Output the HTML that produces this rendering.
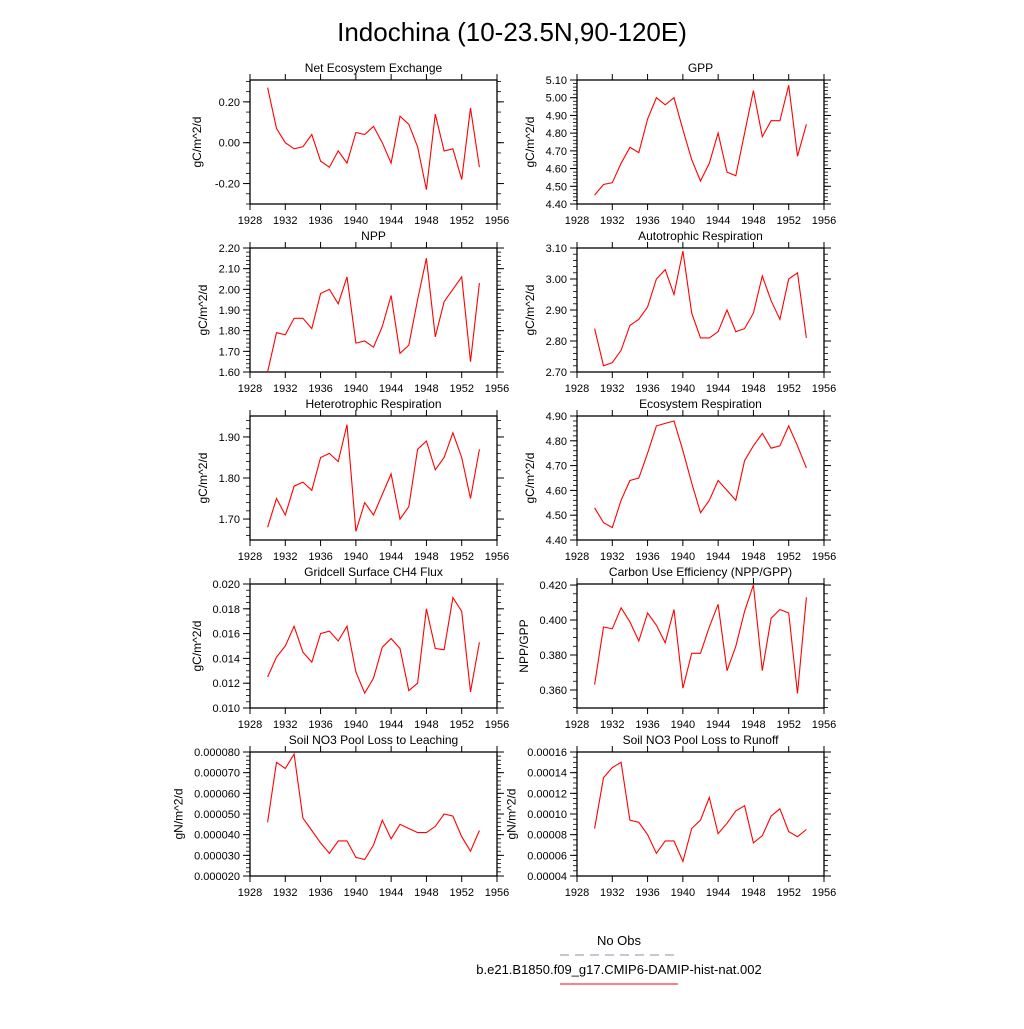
<!DOCTYPE html>
<html><head><meta charset="utf-8"><style>
body{margin:0;background:#fff;}
svg text{font-family:"Liberation Sans",sans-serif;fill:#000;}
</style></head><body>
<svg id="s" width="1024" height="1024" viewBox="0 0 1024 1024">
<text x="512" y="41" font-size="26" text-anchor="middle">Indochina (10-23.5N,90-120E)</text>
<g>
<text x="619" y="945" font-size="13" text-anchor="middle">No Obs</text>
<line x1="560" y1="955" x2="678" y2="955" stroke="#8c8ca8" stroke-width="1" stroke-dasharray="9,6"/>
<text x="619" y="974" font-size="13" text-anchor="middle">b.e21.B1850.f09_g17.CMIP6-DAMIP-hist-nat.002</text>
<line x1="560" y1="984" x2="678" y2="984" stroke="#f00" stroke-width="1"/>
</g>
</svg>
<script>
const years=[1930,1931,1932,1933,1934,1935,1936,1937,1938,1939,1940,1941,1942,1943,1944,1945,1946,1947,1948,1949,1950,1951,1952,1953,1954];
const xTicks=[1928,1932,1936,1940,1944,1948,1952,1956];
const neeVals=[0.27,0.07,0.00,-0.03,-0.02,0.04,-0.09,-0.12,-0.04,-0.10,0.05,0.04,0.08,0.00,-0.10,0.13,0.09,-0.02,-0.23,0.14,-0.04,-0.03,-0.18,0.17,-0.12];
const gppVals=[4.45,4.51,4.52,4.63,4.72,4.69,4.88,5.00,4.96,5.00,4.82,4.65,4.53,4.63,4.80,4.58,4.56,4.80,5.04,4.78,4.87,4.87,5.07,4.67,4.85];
const nppVals=[1.60,1.79,1.78,1.86,1.86,1.81,1.98,2.00,1.93,2.06,1.74,1.75,1.72,1.82,1.97,1.69,1.73,1.95,2.15,1.77,1.94,2.00,2.06,1.65,2.03];
const arVals=[2.84,2.72,2.73,2.77,2.85,2.87,2.91,3.00,3.03,2.95,3.09,2.89,2.81,2.81,2.83,2.90,2.83,2.84,2.89,3.01,2.93,2.87,3.00,3.02,2.81];
const hrVals=[1.68,1.75,1.71,1.78,1.79,1.77,1.85,1.86,1.84,1.93,1.67,1.74,1.71,1.76,1.81,1.70,1.73,1.87,1.89,1.82,1.85,1.91,1.85,1.75,1.87];
const erVals=[4.53,4.47,4.45,4.56,4.64,4.65,4.75,4.86,4.87,4.88,4.76,4.63,4.51,4.56,4.64,4.60,4.56,4.72,4.78,4.83,4.77,4.78,4.86,4.78,4.69];
const ch4Vals=[0.0125,0.0141,0.0150,0.0166,0.0145,0.0137,0.0160,0.0162,0.0154,0.0166,0.0129,0.0112,0.0124,0.0149,0.0156,0.0148,0.0114,0.0120,0.0180,0.0148,0.0147,0.0189,0.0178,0.0113,0.0153];
const cueVals=[0.363,0.396,0.395,0.407,0.399,0.388,0.404,0.397,0.387,0.406,0.361,0.381,0.381,0.396,0.409,0.371,0.385,0.405,0.420,0.371,0.401,0.406,0.404,0.358,0.413];
const leachVals=[0.000046,0.000075,0.000072,0.000079,0.000048,0.000042,0.000036,0.000031,0.000037,0.000037,0.000029,0.000028,0.000035,0.000047,0.000038,0.000045,0.000043,0.000041,0.000041,0.000044,0.000050,0.000049,0.000039,0.000032,0.000042];
const runoffVals=[0.000086,0.000135,0.000145,0.000150,0.000094,0.000092,0.000080,0.000062,0.000074,0.000074,0.000054,0.000086,0.000094,0.000116,0.000081,0.000091,0.000103,0.000108,0.000072,0.000079,0.000098,0.000105,0.000083,0.000078,0.000085];
const neeTicks=["-0.20","0.00","0.20"];
const gppTicks=["4.40","4.50","4.60","4.70","4.80","4.90","5.00","5.10"];
const nppTicks=["1.60","1.70","1.80","1.90","2.00","2.10","2.20"];
const arTicks=["2.70","2.80","2.90","3.00","3.10"];
const hrTicks=["1.70","1.80","1.90"];
const erTicks=["4.40","4.50","4.60","4.70","4.80","4.90"];
const ch4Ticks=["0.010","0.012","0.014","0.016","0.018","0.020"];
const cueTicks=["0.360","0.380","0.400","0.420"];
const leachTicks=["0.000020","0.000030","0.000040","0.000050","0.000060","0.000070","0.000080"];
const runoffTicks=["0.00004","0.00006","0.00008","0.00010","0.00012","0.00014","0.00016"];

const panels=[
 {name:"net-ecosystem-exchange",title:"Net Ecosystem Exchange",col:0,row:0,vals:neeVals,ticks:neeTicks,ymin:-0.3,ymax:0.307,minor:0.05,yl:"gC/m^2/d"},
 {name:"gpp",title:"GPP",col:1,row:0,vals:gppVals,ticks:gppTicks,ymin:4.4,ymax:5.1,minor:0.02,yl:"gC/m^2/d"},
 {name:"npp",title:"NPP",col:0,row:1,vals:nppVals,ticks:nppTicks,ymin:1.6,ymax:2.2,minor:0.02,yl:"gC/m^2/d"},
 {name:"autotrophic-respiration",title:"Autotrophic Respiration",col:1,row:1,vals:arVals,ticks:arTicks,ymin:2.7,ymax:3.1,minor:0.02,yl:"gC/m^2/d"},
 {name:"heterotrophic-respiration",title:"Heterotrophic Respiration",col:0,row:2,vals:hrVals,ticks:hrTicks,ymin:1.649,ymax:1.951,minor:0.02,yl:"gC/m^2/d"},
 {name:"ecosystem-respiration",title:"Ecosystem Respiration",col:1,row:2,vals:erVals,ticks:erTicks,ymin:4.4,ymax:4.9,minor:0.02,yl:"gC/m^2/d"},
 {name:"ch4-flux",title:"Gridcell Surface CH4 Flux",col:0,row:3,vals:ch4Vals,ticks:ch4Ticks,ymin:0.010,ymax:0.020,minor:0.0005,yl:"gC/m^2/d"},
 {name:"carbon-use-efficiency",title:"Carbon Use Efficiency (NPP/GPP)",col:1,row:3,vals:cueVals,ticks:cueTicks,ymin:0.3497,ymax:0.4206,minor:0.005,yl:"NPP/GPP"},
 {name:"no3-leaching",title:"Soil NO3 Pool Loss to Leaching",col:0,row:4,vals:leachVals,ticks:leachTicks,ymin:0.00002,ymax:0.00008,minor:0.000002,yl:"gN/m^2/d"},
 {name:"no3-runoff",title:"Soil NO3 Pool Loss to Runoff",col:1,row:4,vals:runoffVals,ticks:runoffTicks,ymin:0.00004,ymax:0.00016,minor:0.000005,yl:"gN/m^2/d"}
];
const NS="http://www.w3.org/2000/svg";
const svg=document.getElementById('s');
function mk(tag,attrs,parent){const e=document.createElementNS(NS,tag);for(const k in attrs)e.setAttribute(k,attrs[k]);parent.appendChild(e);return e;}
panels.forEach(p=>{
 const L=p.col?577:250, R=L+247, T=80+p.row*168, B=T+124;
 const g=mk('g',{},svg);
 
 
 const xs=v=>L+(v-1928)/(1956-1928)*(R-L);
 const ys=v=>B-(v-p.ymin)/(p.ymax-p.ymin)*(B-T);
 const t=mk('text',{x:(L+R)/2,y:T-8,'font-size':12,'text-anchor':'middle'},g);t.textContent=p.title;
 
 
 const fr=mk('rect',{x:L,y:T,width:R-L,height:B-T,fill:'none',stroke:'#000','stroke-width':1.3},g);
 
 
 xTicks.forEach(v=>{const x=xs(v);
  mk('line',{x1:x,y1:B,x2:x,y2:B+6,stroke:'#000'},g);
  mk('line',{x1:x,y1:T,x2:x,y2:T-6,stroke:'#000'},g);
  const tx=mk('text',{x:x,y:B+20,'font-size':11,'text-anchor':'middle'},g);tx.textContent=v;
  
  
 });
 const n=Math.round((p.ymax-p.ymin)/p.minor);
 const start=Math.ceil(p.ymin/p.minor-1e-6);
 for(let i=start;i*p.minor<=p.ymax+1e-9;i++){const y=ys(i*p.minor);
  mk('line',{x1:L,y1:y,x2:L-4,y2:y,stroke:'#000','stroke-width':0.8},g);
  mk('line',{x1:R,y1:y,x2:R+4,y2:y,stroke:'#000','stroke-width':0.8},g);}
 p.ticks.forEach(s=>{const y=ys(parseFloat(s));
  mk('line',{x1:L,y1:y,x2:L-7,y2:y,stroke:'#000'},g);
  mk('line',{x1:R,y1:y,x2:R+7,y2:y,stroke:'#000'},g);
  const ty=mk('text',{x:L-10,y:y+4,'font-size':11,'text-anchor':'end'},g);ty.textContent=s;
  
  
 });
 const wmax=Math.max(...p.ticks.map(s=>s.length));
 const ylx=L-10-wmax*6.2-8;
 const yt=mk('text',{x:ylx,y:(T+B)/2,'font-size':12,'text-anchor':'middle',transform:`rotate(-90 ${ylx} ${(T+B)/2})`},g);yt.textContent=p.yl;
 
 
 const pts=p.vals.map((v,i)=>xs(years[i]).toFixed(1)+','+ys(v).toFixed(1)).join(' ');
 const pl=mk('polyline',{points:pts,fill:'none',stroke:'#f00','stroke-width':1.1},g);
 
 
});
</script>
</body></html>
